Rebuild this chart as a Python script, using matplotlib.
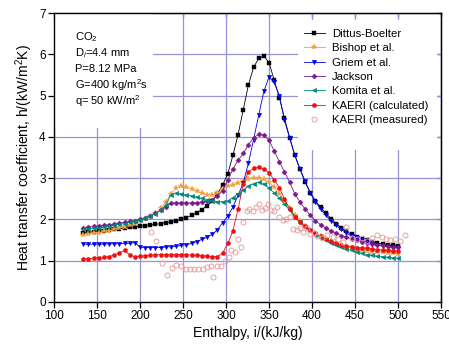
"""Heat transfer coefficient vs enthalpy for supercritical CO2 - correlations vs KAERI data."""

import matplotlib
matplotlib.use("Agg")
import matplotlib.pyplot as plt
from matplotlib.patches import Rectangle

plt.rcParams["font.family"] = ["Liberation Sans", "DejaVu Sans"]
plt.rcParams["mathtext.fontset"] = "custom"
plt.rcParams["mathtext.rm"] = "Liberation Sans"
plt.rcParams["mathtext.it"] = "Liberation Sans:italic"

# ---------------------------------------------------------------------------
# Data
# ---------------------------------------------------------------------------

enthalpy = [
    134, 140, 146, 152, 158, 164, 170, 176, 182, 188, 194, 200, 206, 212, 218, 224,
    230, 236, 242, 248, 254, 260, 266, 272, 278, 284, 290, 296, 302, 308, 314, 320,
    326, 332, 338, 344, 350, 356, 362, 368, 374, 380, 386, 392, 398, 404, 410, 416,
    422, 428, 434, 440, 446, 452, 458, 464, 470, 476, 482, 488, 494, 500,
]

h_dittus = [
    1.68, 1.69, 1.70, 1.72, 1.73, 1.75, 1.76, 1.78, 1.79, 1.81, 1.82, 1.84, 1.85, 1.87, 1.88, 1.90,
    1.92, 1.94, 1.97, 2.00, 2.04, 2.10, 2.16, 2.24, 2.33, 2.45, 2.62, 2.83, 3.10, 3.55, 4.05, 4.65,
    5.25, 5.68, 5.90, 5.96, 5.80, 5.38, 4.95, 4.45, 3.98, 3.56, 3.22, 2.90, 2.65, 2.45, 2.29, 2.15,
    2.02, 1.90, 1.80, 1.71, 1.64, 1.58, 1.53, 1.49, 1.46, 1.43, 1.41, 1.39, 1.37, 1.36,
]

h_bishop = [
    1.62, 1.64, 1.66, 1.68, 1.71, 1.73, 1.76, 1.79, 1.82, 1.86, 1.90, 1.95, 2.01, 2.08, 2.16, 2.27,
    2.42, 2.62, 2.76, 2.80, 2.78, 2.74, 2.69, 2.64, 2.60, 2.59, 2.63, 2.73, 2.80, 2.84, 2.88, 2.93,
    2.98, 3.00, 3.00, 2.97, 2.90, 2.78, 2.62, 2.45, 2.27, 2.10, 1.97, 1.85, 1.75, 1.66, 1.59, 1.53,
    1.47, 1.42, 1.38, 1.34, 1.31, 1.28, 1.26, 1.24, 1.22, 1.21, 1.20, 1.19, 1.18, 1.17,
]

h_griem = [
    1.40, 1.40, 1.40, 1.40, 1.40, 1.41, 1.41, 1.41, 1.42, 1.42, 1.44, 1.33, 1.32, 1.32, 1.32, 1.32,
    1.33, 1.34, 1.35, 1.37, 1.39, 1.42, 1.46, 1.52, 1.57, 1.64, 1.75, 1.92, 2.08, 2.30, 2.58, 2.88,
    3.36, 3.93, 4.52, 5.10, 5.45, 5.32, 5.00, 4.40, 3.97, 3.55, 3.22, 2.93, 2.64, 2.43, 2.25, 2.10,
    1.97, 1.86, 1.76, 1.67, 1.60, 1.54, 1.49, 1.45, 1.41, 1.38, 1.36, 1.34, 1.32, 1.31,
]

h_jackson = [
    1.80, 1.81, 1.83, 1.84, 1.86, 1.87, 1.89, 1.91, 1.93, 1.95, 1.97, 2.00, 2.04, 2.09, 2.15, 2.22,
    2.30, 2.39, 2.40, 2.40, 2.40, 2.40, 2.41, 2.42, 2.44, 2.48, 2.56, 2.70, 2.95, 3.22, 3.43, 3.60,
    3.80, 3.98, 4.06, 4.04, 3.92, 3.66, 3.40, 3.15, 2.90, 2.62, 2.42, 2.25, 2.10, 1.97, 1.87, 1.79,
    1.72, 1.66, 1.61, 1.57, 1.53, 1.49, 1.46, 1.43, 1.41, 1.39, 1.37, 1.35, 1.34, 1.33,
]

h_komita = [
    1.76, 1.77, 1.79, 1.80, 1.82, 1.84, 1.86, 1.88, 1.90, 1.93, 1.96, 1.99, 2.03, 2.08, 2.14, 2.22,
    2.35, 2.60, 2.64, 2.62, 2.60, 2.57, 2.54, 2.51, 2.48, 2.45, 2.43, 2.43, 2.45, 2.53, 2.62, 2.72,
    2.80, 2.87, 2.90, 2.87, 2.76, 2.64, 2.52, 2.37, 2.22, 2.06, 1.93, 1.82, 1.72, 1.63, 1.55, 1.49,
    1.43, 1.38, 1.33, 1.29, 1.25, 1.21, 1.18, 1.15, 1.13, 1.11, 1.10, 1.08, 1.07, 1.06,
]

h_kaeri_calc = [
    1.05, 1.05, 1.06, 1.07, 1.08, 1.10, 1.14, 1.19, 1.25, 1.14, 1.10, 1.11, 1.12, 1.13, 1.14, 1.15,
    1.15, 1.15, 1.15, 1.15, 1.15, 1.14, 1.13, 1.12, 1.11, 1.10, 1.10, 1.18, 1.42, 1.72, 2.25, 2.85,
    3.15, 3.24, 3.26, 3.22, 3.13, 2.96, 2.77, 2.50, 2.25, 2.07, 1.93, 1.83, 1.75, 1.66, 1.59, 1.53,
    1.47, 1.42, 1.38, 1.36, 1.34, 1.32, 1.31, 1.30, 1.28, 1.27, 1.26, 1.25, 1.24, 1.24,
]

enthalpy_meas = [
    213, 219, 226, 231, 237, 242, 248, 253, 258, 263, 268, 273, 278, 283, 285, 289,
    294, 299, 303, 306, 310, 314, 317, 320, 324, 327, 331, 335, 338, 342, 345, 349,
    352, 356, 359, 362, 366, 370, 374, 378, 382, 386, 390, 394, 398, 402, 406, 412,
    418, 424, 430, 436, 440, 446, 452, 458, 464, 470, 475, 481, 486, 491, 496, 502,
    508,
]

h_kaeri_meas = [
    1.70, 1.48, 0.95, 0.65, 0.82, 0.90, 0.87, 0.80, 0.79, 0.79, 0.79, 0.80, 0.84, 0.86, 0.60, 0.86,
    0.88, 1.00, 1.08, 1.25, 1.22, 1.52, 1.33, 1.94, 2.20, 2.25, 2.20, 2.30, 2.38, 2.22, 2.28, 2.38,
    2.22, 2.20, 2.30, 2.05, 1.99, 2.02, 2.05, 1.78, 1.75, 1.80, 1.70, 1.80, 1.65, 1.68, 1.60, 1.55,
    1.62, 1.58, 1.52, 1.45, 1.82, 1.55, 1.52, 1.54, 1.48, 1.55, 1.62, 1.57, 1.52, 1.49, 1.52, 1.47,
    1.63,
]

x_ticks = [100, 150, 200, 250, 300, 350, 400, 450, 500, 550]
y_ticks = [0, 1, 2, 3, 4, 5, 6, 7]

conditions = [
    "CO$_2$",
    "D$_i$=4.4 mm",
    "P=8.12 MPa",
    "G=400 kg/m$^2$s",
    "q= 50 kW/m$^2$",
]

# (label, values, colour, marker, markersize)
SERIES = [
    ("Dittus-Boelter", h_dittus, "#000000", "s", 2.7),
    ("Bishop et al.", h_bishop, "#F0A040", "*", 4.0),
    ("Griem et al.", h_griem, "#0000EE", "v", 3.2),
    ("Jackson", h_jackson, "#7A1A8A", "D", 2.6),
    ("Komita et al.", h_komita, "#00897B", "<", 3.2),
    ("KAERI (calculated)", h_kaeri_calc, "#EE1111", "o", 3.0),
]

GRID_COLOR = "#9494D6"


def main() -> None:
    fig = plt.figure(figsize=(4.49, 3.47), dpi=100)
    ax = fig.add_axes([54 / 449, 45 / 347, 387 / 449, 289 / 347])

    ax.set_axisbelow(True)
    ax.grid(True, color=GRID_COLOR, lw=0.9, zorder=0)

    # white boxes behind the annotation and legend (they hide the grid)
    ax.add_patch(Rectangle((0.0, 0.602), 0.256, 0.398, transform=ax.transAxes,
                           facecolor="white", edgecolor="none", zorder=1))
    ax.add_patch(Rectangle((0.630, 0.526), 0.360, 0.45, transform=ax.transAxes,
                           facecolor="white", edgecolor="none", zorder=1))

    handles = []
    for label, values, color, marker, ms in SERIES:
        (ln,) = ax.plot(enthalpy, values, color=color, lw=0.6, marker=marker,
                        ms=ms, mec=color, mfc=color, mew=0.3, label=label, zorder=3)
        handles.append(ln)

    (meas,) = ax.plot(enthalpy_meas, h_kaeri_meas, ls="none", marker="o", ms=3.6,
                      mfc="none", mec="#E8A0A0", mew=0.7, label="KAERI (measured)", zorder=3)
    handles.append(meas)

    ax.set_xlim(100, 550)
    ax.set_ylim(0, 7)
    ax.set_xticks(x_ticks)
    ax.set_yticks(y_ticks)
    ax.tick_params(direction="out", length=4, width=0.9, labelsize=8.5, pad=2)

    for sp in ax.spines.values():
        sp.set_linewidth(1.0)

    top = ax.secondary_xaxis("top")
    top.set_xticks(x_ticks)
    top.tick_params(direction="in", length=3, width=0.9, labeltop=False)
    right = ax.secondary_yaxis("right")
    right.set_yticks(y_ticks)
    right.tick_params(direction="in", length=3, width=0.9, labelright=False)

    ax.set_xlabel("Enthalpy, i/(kJ/kg)", fontsize=10, labelpad=3)
    ax.set_ylabel("Heat transfer coefficient, h/(kW/m$^2$K)", fontsize=10, labelpad=3)

    for k, line in enumerate(conditions):
        ax.text(0.055, 0.915 - k * 0.055, line, transform=ax.transAxes,
                fontsize=8, va="center", ha="left", zorder=4)

    ax.legend(handles=handles, loc="upper left", bbox_to_anchor=(0.645, 0.945),
              frameon=False, fontsize=8.2, handlelength=1.9, handletextpad=0.6,
              labelspacing=0.38, borderpad=0.0, borderaxespad=0.0)

    fig.savefig("out.png", dpi=100)
    plt.close(fig)


if __name__ == "__main__":
    main()
